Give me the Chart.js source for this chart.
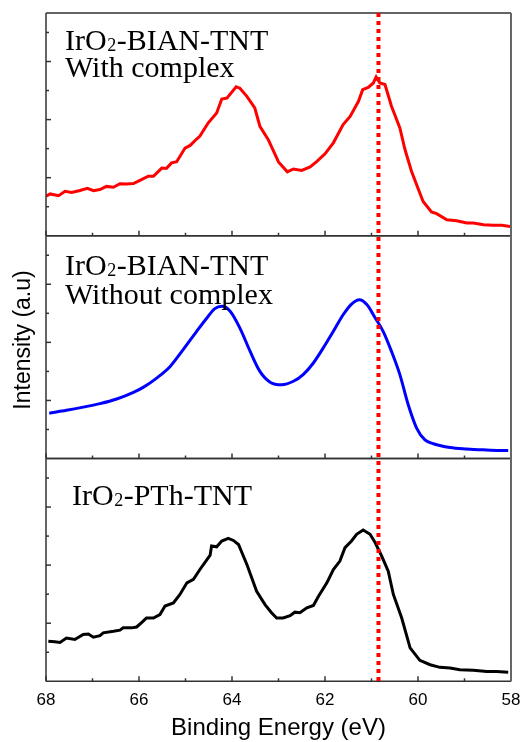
<!DOCTYPE html>
<html>
<head>
<meta charset="utf-8">
<script src="https://cdn.jsdelivr.net/npm/chart.js@4.4.1/dist/chart.umd.min.js"></script>
<style>
html,body{margin:0;padding:0;background:#fff;}
#wrap{width:527px;height:742px;position:relative;}
</style>
</head>
<body>
<div id="wrap"><canvas id="c" width="527" height="742"></canvas></div>
<script>
// ---- data (binding energy eV, intensity a.u.) ----
const xTickLabels = [68, 66, 64, 62, 60, 58];
const markerEnergy = 60.85;

const panelTitles = [
  ["IrO", "2", "-BIAN-TNT", "With complex"],
  ["IrO", "2", "-BIAN-TNT", "Without complex"],
  ["IrO", "2", "-PTh-TNT", ""]
];

const withComplex = [
  [68.00,1.36],[67.91,1.44],[67.73,1.38],[67.59,1.53],[67.45,1.49],[67.27,1.56],[67.11,1.63],[66.98,1.55],
  [66.84,1.59],[66.70,1.70],[66.55,1.67],[66.41,1.79],[66.27,1.78],[66.12,1.80],[65.98,1.91],[65.80,2.05],
  [65.69,2.05],[65.51,2.33],[65.41,2.32],[65.30,2.51],[65.19,2.55],[65.01,3.02],[64.90,3.11],[64.76,3.33],
  [64.69,3.43],[64.51,3.89],[64.33,4.23],[64.22,4.71],[64.11,4.74],[63.91,5.13],[63.83,5.08],[63.68,4.80],
  [63.51,4.40],[63.40,3.77],[63.22,3.31],[63.00,2.54],[62.81,2.20],[62.68,2.30],[62.50,2.25],[62.32,2.37],
  [62.18,2.55],[62.00,2.82],[61.82,3.20],[61.61,3.83],[61.46,4.11],[61.28,4.63],[61.19,5.03],[61.07,5.11],
  [60.96,5.26],[60.90,5.47],[60.82,5.26],[60.71,5.21],[60.57,4.46],[60.39,3.71],[60.28,2.97],[60.14,2.22],
  [59.99,1.59],[59.89,1.18],[59.71,0.82],[59.60,0.76],[59.38,0.55],[59.17,0.52],[58.95,0.44],[58.81,0.44],
  [58.59,0.38],[58.38,0.36],[58.20,0.36],[58.02,0.32]
];

const withoutComplex = [
  [67.93,1.56],[67.56,1.66],[67.20,1.77],[66.84,1.89],[66.48,2.05],[66.12,2.28],[65.91,2.45],[65.62,2.77],
  [65.33,3.17],[65.05,3.75],[64.76,4.38],[64.54,4.84],[64.37,5.16],[64.22,5.24],[64.04,5.07],[63.83,4.49],
  [63.61,3.69],[63.40,3.00],[63.18,2.63],[62.93,2.54],[62.68,2.66],[62.47,2.89],[62.25,3.29],[62.04,3.80],
  [61.82,4.38],[61.61,4.95],[61.43,5.32],[61.26,5.47],[61.10,5.30],[60.92,4.84],[60.75,4.38],[60.57,3.69],
  [60.39,2.89],[60.21,1.85],[60.03,1.05],[59.85,0.64],[59.67,0.51],[59.31,0.38],[58.95,0.33],[58.60,0.30],
  [58.24,0.28],[58.06,0.28]
];

const pthTnt = [
  [67.95,1.38],[67.81,1.36],[67.70,1.34],[67.56,1.49],[67.38,1.44],[67.20,1.61],[67.09,1.63],[66.98,1.52],
  [66.84,1.57],[66.77,1.67],[66.55,1.72],[66.41,1.76],[66.34,1.84],[66.16,1.84],[66.05,1.87],[65.91,2.07],
  [65.84,2.18],[65.69,2.18],[65.55,2.30],[65.44,2.59],[65.26,2.70],[65.12,2.99],[64.97,3.39],[64.83,3.51],
  [64.69,3.85],[64.47,4.34],[64.44,4.66],[64.33,4.63],[64.22,4.83],[64.08,4.92],[63.97,4.85],[63.86,4.71],
  [63.68,4.02],[63.47,3.10],[63.29,2.64],[63.15,2.36],[63.04,2.18],[62.90,2.18],[62.75,2.26],[62.65,2.38],
  [62.54,2.36],[62.39,2.53],[62.25,2.61],[62.14,2.93],[61.96,3.39],[61.82,3.85],[61.68,4.14],[61.57,4.60],
  [61.43,4.83],[61.32,5.06],[61.18,5.21],[61.03,5.06],[60.92,4.77],[60.78,4.31],[60.64,3.79],[60.53,2.99],
  [60.35,2.18],[60.17,1.15],[59.96,0.72],[59.74,0.57],[59.53,0.48],[59.31,0.46],[59.10,0.40],[58.81,0.38],
  [58.52,0.34],[58.31,0.34],[58.06,0.31]
];

const yMax = 7.67;
const panelIds = ['yTop', 'yMid', 'yBot'];

const toPts = arr => arr.map(p => ({x: p[0], y: p[1]}));

const sansTick = "'Liberation Sans', Arial, sans-serif";
const serif = "'Liberation Serif', 'Times New Roman', serif";

const decor = {
  id: 'decor',
  afterDatasetsDraw(chart) {
    const {ctx, chartArea: a, scales} = chart;
    const xs = scales.x;
    ctx.save();
    ctx.strokeStyle = '#333';
    ctx.lineWidth = 1.5;
    panelIds.forEach(id => {
      const s = scales[id];
      const top = s.getPixelForValue(yMax), bot = s.getPixelForValue(0);
      ctx.beginPath();
      ctx.moveTo(a.left, top); ctx.lineTo(a.right, top);
      ctx.moveTo(a.left, bot); ctx.lineTo(a.right, bot);
      ctx.moveTo(a.left, top); ctx.lineTo(a.left, bot);
      ctx.stroke();
      for (let v = 1; v <= 7; v++) {
        const y = s.getPixelForValue(v);
        const len = v % 2 === 0 ? 5 : 3;
        ctx.beginPath(); ctx.moveTo(a.left, y); ctx.lineTo(a.left + len, y); ctx.stroke();
      }
      for (let e = 58; e <= 68; e++) {
        const x = xs.getPixelForValue(e);
        const len = e % 2 === 0 ? 5 : 3;
        ctx.beginPath(); ctx.moveTo(x, bot); ctx.lineTo(x, bot - len); ctx.stroke();
      }
    });
    ctx.strokeStyle = '#666';
    ctx.lineWidth = 2;
    ctx.beginPath(); ctx.moveTo(a.right, a.top); ctx.lineTo(a.right, a.bottom); ctx.stroke();
    const mx = xs.getPixelForValue(markerEnergy);
    ctx.strokeStyle = '#ff0000';
    ctx.lineWidth = 4;
    ctx.setLineDash([4, 4]);
    ctx.beginPath(); ctx.moveTo(mx, a.top); ctx.lineTo(mx, a.bottom); ctx.stroke();
    ctx.setLineDash([]);
    ctx.restore();
  },
  afterDraw(chart) {
    const {ctx, scales} = chart;
    ctx.save();
    ctx.fillStyle = '#000';
    ctx.textBaseline = 'alphabetic';
    ctx.textAlign = 'left';
    const offs = [[65, 37, 64], [65, 39, 68], [72, 46, 0]];
    panelIds.forEach((id, i) => {
      const s = scales[id];
      const top = s.getPixelForValue(yMax);
      const [x0, b1, b2] = offs[i];
      const t = panelTitles[i];
      let x = x0;
      ctx.font = "30px " + serif;
      ctx.fillText(t[0], x, top + b1);
      x += ctx.measureText(t[0]).width;
      ctx.font = "18px " + serif;
      ctx.fillText(t[1], x + 0.5, top + b1 + 1);
      x += ctx.measureText(t[1]).width + 1;
      ctx.font = "30px " + serif;
      ctx.fillText(t[2], x, top + b1);
      if (t[3]) ctx.fillText(t[3], x0, top + b2);
    });
    ctx.translate(30, 340);
    ctx.rotate(-Math.PI / 2);
    ctx.textAlign = 'center';
    ctx.font = "23px " + sansTick;
    ctx.fillText('Intensity (a.u)', 0, 0);
    ctx.restore();
  }
};

const yAxis = () => ({
  type: 'linear',
  position: 'left',
  stack: 'panels',
  stackWeight: 1,
  min: 0,
  max: yMax,
  display: true,
  grid: {display: false, drawTicks: false, tickLength: 0},
  border: {display: false},
  ticks: {display: false}
});

new Chart(document.getElementById('c'), {
  type: 'line',
  data: {
    datasets: [
      {label: 'IrO2-PTh-TNT', data: toPts(pthTnt), yAxisID: 'yBot', borderColor: '#000000', borderWidth: 3, pointRadius: 0, tension: 0},
      {label: 'IrO2-BIAN-TNT Without complex', data: toPts(withoutComplex), yAxisID: 'yMid', borderColor: '#0000ff', borderWidth: 3, pointRadius: 0, cubicInterpolationMode: 'monotone'},
      {label: 'IrO2-BIAN-TNT With complex', data: toPts(withComplex), yAxisID: 'yTop', borderColor: '#ff0000', borderWidth: 3, pointRadius: 0, tension: 0}
    ]
  },
  options: {
    responsive: false,
    animation: false,
    devicePixelRatio: 1,
    layout: {padding: {left: 46, right: 16, top: 13, bottom: 0}},
    plugins: {legend: {display: false}, tooltip: {enabled: false}},
    scales: {
      x: {
        type: 'linear',
        min: 58, max: 68, reverse: true,
        grid: {display: false, drawTicks: false, tickLength: 0},
        border: {display: false},
        afterBuildTicks: (s) => { s.ticks = xTickLabels.map(v => ({value: v})); },
        afterFit: (s) => { s.paddingLeft = 0; s.paddingRight = 0; },
        ticks: {color: '#000', padding: 9, font: {size: 17, family: sansTick}},
        title: {display: true, text: 'Binding Energy (eV)', color: '#000',
                font: {size: 24, family: sansTick}, padding: {top: -5.5, bottom: -1}}
      },
      yBot: yAxis(),
      yMid: yAxis(),
      yTop: yAxis()
    }
  },
  plugins: [decor]
});
</script>
</body>
</html>
